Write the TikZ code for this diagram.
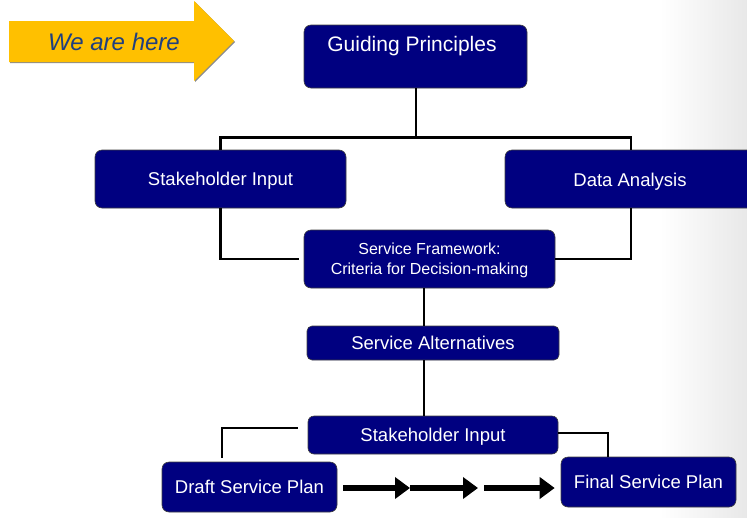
\documentclass[tikz,border=0pt]{standalone}
\usepackage{fontspec}
\setmainfont{Liberation Sans}
\usetikzlibrary{arrows.meta}
\definecolor{boxnavy}{HTML}{000080}
\definecolor{markeryellow}{HTML}{FFC000}
\definecolor{markertext}{HTML}{1F3F7F}
\tikzset{
  stagebox/.style={rectangle, rounded corners=7pt, fill=boxnavy, draw=black!75,
    line width=0.6pt, text=white, font=\fontsize{18.5}{21}\selectfont,
    inner sep=0pt, align=center, text depth=0pt},
  link/.style={line width=2.6pt, black},
  flow/.style={line width=6pt, black, -{Triangle[length=15pt,width=21pt]}},
}
\begin{document}
\begin{tikzpicture}[x=1pt,y=-1pt]
\clip (0,0) rectangle (747,517);
\fill[white] (0,0) rectangle (747,517);
% faded backdrop at the right edge
\shade[left color=white, right color=black!9] (660,0) rectangle (747,517);

% "We are here" marker arrow
\fill[black!45] (10,22) -- (195,22) -- (195,2) -- (235,42) -- (195,82) -- (195,63) -- (10,63) -- cycle;
\fill[markeryellow] (9,21) -- (194,21) -- (194,1) -- (234,41) -- (194,81) -- (194,62) -- (9,62) -- cycle;
\node[text=markertext, font=\fontsize{24}{28}\itshape\selectfont] (here) at (114,42) {We are here};

% stage boxes
\node[stagebox, minimum width=223pt, minimum height=63pt] (gp) at (415.5,56.5) {};
\node[text=white, font=\fontsize{21}{24}\selectfont] (gptext) at (412,46) {Guiding Principles};
\node[stagebox, minimum width=251pt, minimum height=58pt] (si1) at (220.5,179) {Stakeholder Input};
\node[stagebox, minimum width=252pt, minimum height=58pt] (da) at (631,179) {};
\node[text=white, font=\fontsize{18.5}{21}\selectfont, text depth=0pt] (datext) at (630,180) {Data Analysis};
\node[stagebox, minimum width=251pt, minimum height=58pt, font=\fontsize{16}{20}\selectfont] (sf) at (429.5,259) {Service Framework:\\Criteria for Decision-making};
\node[stagebox, minimum width=252pt, minimum height=34pt, rounded corners=5pt] (sa) at (433,343) {Service Alternatives};
\node[stagebox, minimum width=250pt, minimum height=38pt, rounded corners=6pt] (si2) at (433,435) {Stakeholder Input};
\node[stagebox, minimum width=175pt, minimum height=50pt] (draft) at (249.5,487) {Draft Service Plan};
\node[stagebox, minimum width=175pt, minimum height=50pt] (final) at (648.5,482) {Final Service Plan};

\coordinate (spine) at (424,0);

% connectors
\draw[link] (gp.south -| spine) ++(-8,0) coordinate (gpfoot) -- ++(0,49) coordinate (fork);
\draw[link] (si1.north) -- (si1.north |- fork) -| (da.north);
\draw[link] (si1.south) |- ([xshift=-5pt]sf.west);
\draw[link] (da.south) |- (sf.east);
\draw[link] (sf.south -| spine) -- (sa.north -| spine);
\draw[link] (sa.south -| spine) -- (si2.north -| spine);
\draw[link] ([shift={(-10,-7)}]si2.west) -| ([shift={(-27.5,-4)}]draft.north);
\draw[link] ([shift={(0,-2)}]si2.east) -| (final.north -| 608,0);

% flow from draft to final plan
\coordinate (mid1) at (410,488);
\coordinate (mid2) at (478,488);
\coordinate (mid3) at (484,488);
\draw[flow] ([xshift=6pt]draft.east |- mid1) -- (mid1);
\draw[flow] (mid1) -- (mid2);
\draw[flow] (mid3) -- ([xshift=-6pt]final.west |- mid3);
\end{tikzpicture}
\end{document}
